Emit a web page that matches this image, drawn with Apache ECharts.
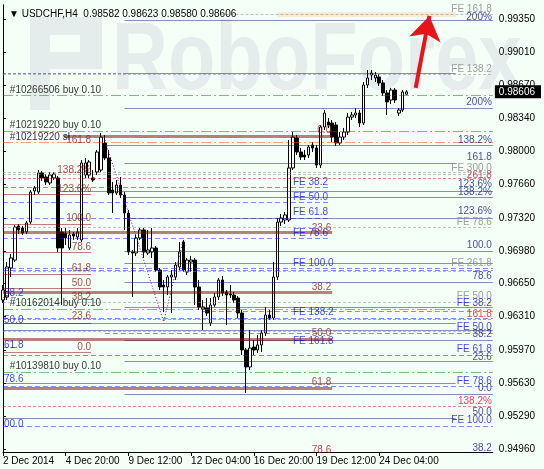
<!DOCTYPE html>
<html>
<head>
<meta charset="utf-8">
<script src="https://cdn.jsdelivr.net/npm/echarts@6/dist/echarts.min.js"></script>
<style>
    html, body { margin: 0; padding: 0; background: #f4fff8; }
    #chart { width: 544px; height: 469px; }
</style>
</head>
<body>
<div id="chart"></div>
<script>
// --- Data ---
const symbolName = 'USDCHF,H4';
const barCount = 126;                      // slots on the time axis (last ~22 are empty)
const timeLabels = ['2 Dec 2014', '4 Dec 20:00', '9 Dec 12:00', '12 Dec 04:00', '16 Dec 20:00', '19 Dec 12:00', '24 Dec 04:00'];
const timeLabelBars = [0, 16, 32, 48, 64, 80, 96];
const priceTicks = [0.9496, 0.9529, 0.9563, 0.9597, 0.9631, 0.9665, 0.9698, 0.9732, 0.9766, 0.9800, 0.9834, 0.9867, 0.9901, 0.9935];
const priceMin = 0.94929;
const priceMax = 0.99493;

// [open, close, low, high]
const candles = [
    [0.96481, 0.96583, 0.96450, 0.96634], [0.96512, 0.96818, 0.96481, 0.96869], [0.96808, 0.96910, 0.96716, 0.96951],
    [0.96889, 0.97226, 0.96869, 0.97247], [0.97237, 0.97196, 0.97155, 0.97257], [0.97216, 0.97165, 0.97145, 0.97237],
    [0.97175, 0.97267, 0.97155, 0.97288], [0.97277, 0.97584, 0.97257, 0.97604], [0.97594, 0.97625, 0.97553, 0.97645],
    [0.97584, 0.97778, 0.97563, 0.97808], [0.97778, 0.97727, 0.97696, 0.97798], [0.97737, 0.97686, 0.97655, 0.97767],
    [0.97676, 0.97757, 0.97655, 0.97788], [0.97727, 0.97767, 0.97706, 0.97788], [0.97727, 0.97012, 0.96971, 0.97747],
    [0.97175, 0.97012, 0.96430, 0.97216], [0.97165, 0.97114, 0.97043, 0.97216], [0.97012, 0.97145, 0.96992, 0.97196],
    [0.97155, 0.97134, 0.97094, 0.97175], [0.97124, 0.97175, 0.97094, 0.97216], [0.97094, 0.97880, 0.97073, 0.97910],
    [0.97757, 0.97880, 0.97727, 0.97931], [0.97757, 0.97890, 0.97727, 0.97910], [0.97727, 0.97706, 0.97686, 0.97808],
    [0.97788, 0.97992, 0.97757, 0.98013], [0.97808, 0.98145, 0.97788, 0.98186], [0.98084, 0.97931, 0.97910, 0.98166],
    [0.97931, 0.97574, 0.97553, 0.98013], [0.97604, 0.97574, 0.97369, 0.97686], [0.97574, 0.97655, 0.97553, 0.97706],
    [0.97655, 0.97553, 0.97522, 0.97737], [0.97553, 0.97369, 0.97196, 0.97584], [0.97369, 0.96971, 0.96940, 0.97400],
    [0.96971, 0.96961, 0.96512, 0.96992], [0.96961, 0.97114, 0.96930, 0.97145], [0.97114, 0.97196, 0.97094, 0.97216],
    [0.97196, 0.96971, 0.96910, 0.97216], [0.96961, 0.96992, 0.96940, 0.97196], [0.96971, 0.97012, 0.96910, 0.97216],
    [0.97012, 0.96787, 0.96767, 0.97032], [0.96787, 0.96614, 0.96583, 0.96808], [0.96634, 0.96614, 0.96359, 0.96685],
    [0.96614, 0.96716, 0.96532, 0.96736], [0.96716, 0.96736, 0.96348, 0.96787], [0.96716, 0.96838, 0.96685, 0.96869],
    [0.96818, 0.96971, 0.96787, 0.97073], [0.97073, 0.96787, 0.96767, 0.97094], [0.96767, 0.96889, 0.96736, 0.96910],
    [0.96869, 0.96889, 0.96767, 0.96930], [0.96889, 0.96614, 0.96430, 0.96910], [0.96614, 0.96410, 0.96379, 0.96685],
    [0.96389, 0.96410, 0.96175, 0.96481], [0.96399, 0.96348, 0.96318, 0.96501], [0.96246, 0.96430, 0.96216, 0.96501],
    [0.96430, 0.96512, 0.96410, 0.96553], [0.96512, 0.96685, 0.96481, 0.96706], [0.96685, 0.96553, 0.96522, 0.96726],
    [0.96563, 0.96532, 0.96226, 0.96583], [0.96542, 0.96532, 0.96501, 0.96634], [0.96532, 0.96481, 0.96450, 0.96563],
    [0.96501, 0.96348, 0.96297, 0.96522], [0.96348, 0.95971, 0.95919, 0.96379], [0.95971, 0.95797, 0.95532, 0.95991],
    [0.95797, 0.95991, 0.95766, 0.96175], [0.96001, 0.95971, 0.95919, 0.96073], [0.95971, 0.96022, 0.95940, 0.96124],
    [0.96022, 0.96144, 0.95950, 0.96175], [0.96144, 0.96328, 0.96113, 0.96410], [0.96328, 0.96297, 0.96277, 0.96379],
    [0.96297, 0.96716, 0.96277, 0.96869], [0.96716, 0.97277, 0.96685, 0.97318], [0.97277, 0.97318, 0.97237, 0.97359],
    [0.97298, 0.97349, 0.97257, 0.97380], [0.97298, 0.97829, 0.97277, 0.98115], [0.97829, 0.98145, 0.97808, 0.98196],
    [0.98135, 0.97992, 0.97961, 0.98166], [0.97992, 0.97941, 0.97910, 0.98033], [0.97961, 0.97941, 0.97910, 0.98013],
    [0.97961, 0.98043, 0.97931, 0.98064], [0.98064, 0.98033, 0.97992, 0.98094], [0.98033, 0.97859, 0.97829, 0.98064],
    [0.97859, 0.98247, 0.97829, 0.98268], [0.98247, 0.98390, 0.98217, 0.98421], [0.98298, 0.98268, 0.98237, 0.98339],
    [0.98288, 0.98145, 0.98094, 0.98319], [0.98268, 0.98084, 0.98053, 0.98298], [0.98084, 0.98145, 0.98064, 0.98196],
    [0.98145, 0.98196, 0.98115, 0.98237], [0.98196, 0.98349, 0.98166, 0.98390], [0.98349, 0.98370, 0.98319, 0.98401],
    [0.98370, 0.98390, 0.98339, 0.98441], [0.98390, 0.98288, 0.98247, 0.98421], [0.98288, 0.98676, 0.98268, 0.98707],
    [0.98676, 0.98748, 0.98646, 0.98829], [0.98778, 0.98799, 0.98727, 0.98829], [0.98748, 0.98778, 0.98707, 0.98809],
    [0.98758, 0.98697, 0.98666, 0.98789], [0.98697, 0.98595, 0.98564, 0.98727], [0.98595, 0.98503, 0.98370, 0.98625],
    [0.98523, 0.98625, 0.98482, 0.98646], [0.98625, 0.98523, 0.98492, 0.98646], [0.98390, 0.98421, 0.98360, 0.98441],
    [0.98421, 0.98605, 0.98401, 0.98625], [0.98582, 0.98606, 0.98580, 0.98623]
];

// horizontal levels: [price, fromBar, toBar]
const grayDashLevels = [[0.99401, 55.5, 125], [0.98788, 0, 125], [0.97788, 0, 125], [0.97767, 0, 125],
    [0.97226, 0, 125], [0.96777, 0, 125], [0.96461, 0, 125], [0.96164, 0, 125]];
const navyDashLevels = [[0.98799, 0, 31]];
const navyLevels = [[0.99340, 31, 125], [0.98799, 31, 115.5], [0.98441, 31, 125], [0.98064, 26, 125],
    [0.97880, 31, 115.5], [0.97594, 15, 125], [0.97533, 31, 125], [0.97318, 31, 125], [0.96981, 31, 125],
    [0.96859, 31, 125], [0.96665, 31, 125], [0.96410, 31, 125], [0.96248, 0, 115.5], [0.96176, 0, 125],
    [0.96073, 31, 125], [0.95852, 31, 125], [0.95633, 0, 115.5], [0.95521, 31, 125], [0.95276, 0, 115.5]];
const blueDashLevels = [[0.97635, 0, 83], [0.97482, 0, 83], [0.97318, 0, 83], [0.97114, 0, 83],
    [0.96808, 0, 125], [0.96787, 0, 125], [0.96512, 0, 4], [0.96369, 51, 125], [0.96297, 0, 125],
    [0.96144, 26, 125], [0.96001, 0, 4], [0.95919, 0, 125], [0.95603, 0, 125], [0.95195, 0, 125]];
const fiboThickLevels = [[0.98155, 15.5, 84], [0.97175, 0, 84], [0.96563, 0, 84], [0.96083, 0, 84], [0.95582, 0, 84]];
const fiboThinLevels = [[0.97563, 0, 22.5], [0.97257, 0, 22.5], [0.96971, 0, 22.5], [0.96746, 0, 22.5],
    [0.96604, 0, 22.5], [0.96248, 0, 22.5], [0.95944, 0, 22.5]];
const orderLevels = [[0.98574, 0, 125], [0.98200, 0, 125], [0.96389, 0, 115.5], [0.95746, 0, 125]];
const stopLevels = [[0.98094, 0, 125]];
const crimsonLevels = [[0.97727, 0, 125], [0.96287, 0, 125], [0.95399, 0, 125]];
const targetBand = [[0.99396, 70, 115.5]];
const zigzag = [[26, 0.98115], [41, 0.96258], [46, 0.97094]];
const arrow = [[105.3, 0.98646], [108.8, 0.99381]];

// text labels: [text, price, colour key]
const rightLabels = [
    ['FE 161.8', 0.99452, 'gray'], ['200%', 0.99370, 'navy'], ['FE 138.2', 0.98839, 'gray'], ['200%', 0.98503, 'navy'],
    ['138.2%', 0.98115, 'navy'], ['161.8', 0.97941, 'navy'], ['261.8', 0.97757, 'crimson'], ['FE 300.0', 0.97829, 'gray'],
    ['138.2%', 0.97584, 'navy'], ['123.6%', 0.97665, 'navy'], ['123.6%', 0.97390, 'navy'], ['FE 78.6', 0.97277, 'gray'],
    ['100.0', 0.97043, 'navy'], ['FE 261.8', 0.96859, 'gray'], ['78.6', 0.96726, 'navy'], ['FE 50.0', 0.96522, 'gray'],
    ['FE 38.2', 0.96450, 'blue'], ['161.8', 0.96338, 'crimson'], ['38.2', 0.96134, 'navy'], ['FE 50.0', 0.96205, 'blue'],
    ['23.6', 0.95899, 'navy'], ['FE 61.8', 0.95981, 'blue'], ['0.0', 0.95582, 'navy'], ['FE 78.6', 0.95654, 'blue'],
    ['138.2%', 0.95450, 'crimson'], ['50.0', 0.95337, 'navy'], ['FE 100.0', 0.95256, 'blue'], ['38.2', 0.94970, 'navy']
];
const midLabels = [['FE 38.2', 0.97686], ['FE 50.0', 0.97533], ['FE 61.8', 0.97380], ['FE 78.6', 0.97165],
    ['FE 100.0', 0.96859], ['FE 138.2', 0.96359], ['FE 161.8', 0.96063]];
const midFiboLabels = [['0.0', 0.98217], ['23.6', 0.97216], ['38.2', 0.96614], ['50.0', 0.96144], ['61.8', 0.95644], ['78.6', 0.94950]];
const leftFiboLabels = [['161.8', 0.98115], ['138.2%', 0.97808], ['123.6%', 0.97614], ['100.0', 0.97318], ['78.6', 0.97022],
    ['61.8', 0.96808], ['50.0', 0.96655], ['38.2', 0.96512], ['23.6', 0.96318], ['0.0', 0.96001]];
const orderLabels = [['#10266506 buy 0.10', 0.98625], ['#10219220 buy 0.10', 0.98268], ['#10219220 sl', 0.98145],
    ['#10162014 buy 0.10', 0.96450], ['#10139810 buy 0.10', 0.95807]];
const leftBlueLabels = [['38.2', 0.96552], ['50.0', 0.96277], ['61.8', 0.96022], ['78.6', 0.95674], ['00.0', 0.95215]];

// --- Styles ---
const FONT = 'Liberation Sans';
const WATERMARK = '#e4edeb';
const colors = {
    navy: '#1c1c7c', blue: '#1515e0', gray: '#888888', crimson: '#dc143c',
    darkRed: '#800000', fibText: '#8e2020', green: '#008000', orange: '#ff4500'
};

const chartDom = document.getElementById('chart');
const myChart = echarts.init(chartDom);

const bars = Array.from({ length: barCount }, (_, i) => String(i));
const lastBar = candles[candles.length - 1];
const lastClose = lastBar[1];
const header = '\u25BC ' + symbolName + '  ' + [lastBar[0], lastBar[3], lastBar[2], lastBar[1]].map(v => v.toFixed(5)).join(' ');

function levelSeries(levels, lineStyle, z) {
    return {
        type: 'lines', coordinateSystem: 'cartesian2d', xAxisIndex: 1, yAxisIndex: 0,
        silent: true, z: z || 5, symbol: 'none', lineStyle: lineStyle,
        data: levels.map(([p, a, b]) => ({ coords: [[a, p], [b, p]] }))
    };
}

// text-only scatter; items are [text, price, colourKey?]
function textSeries(items, bar, side, colorOf) {
    return {
        type: 'scatter', xAxisIndex: 1, yAxisIndex: 0, symbolSize: 0, silent: true, clip: false, z: 8,
        itemStyle: { color: 'rgba(0,0,0,0)' },
        label: {
            show: true, position: side === 'right' ? 'left' : 'right', distance: 0,
            fontFamily: FONT, fontSize: 10,
            formatter: p => p.value[2]
        },
        data: items.map(item => ({
            value: [bar, item[1], item[0]],
            label: { color: typeof colorOf === 'function' ? colorOf(item) : colorOf }
        }))
    };
}

const option = {
    backgroundColor: '#f4fff8',
    animation: false,
    title: {
        text: header, left: 4, top: 4,
        textStyle: { fontFamily: FONT, fontSize: 10, fontWeight: 'normal', color: '#000' }
    },
    // broker watermark (logo block + name)
    graphic: [
        { type: 'rect', z: -10, silent: true, shape: { x: 30, y: 17, width: 20, height: 93 }, style: { fill: WATERMARK } },
        { type: 'rect', z: -10, silent: true, shape: { x: 30, y: 17, width: 72, height: 18 }, style: { fill: WATERMARK } },
        { type: 'rect', z: -10, silent: true, shape: { x: 80, y: 17, width: 22, height: 52 }, style: { fill: WATERMARK } },
        { type: 'rect', z: -10, silent: true, shape: { x: 50, y: 52, width: 52, height: 17 }, style: { fill: WATERMARK } },
        {
            type: 'text', x: 112, y: 62, scaleX: 0.8, z: -10, silent: true,
            style: { text: 'RoboForex', font: 'bold 97px "Liberation Sans"', fill: WATERMARK, verticalAlign: 'middle' }
        }
    ],
    grid: { left: 3, right: 41, top: 5, bottom: 17 },
    xAxis: [{
        type: 'category', data: bars, boundaryGap: false,
        axisLine: { lineStyle: { color: '#000', width: 1 } },
        axisTick: { length: 4, lineStyle: { color: '#000' }, interval: i => timeLabelBars.includes(i) },
        axisLabel: {
            interval: i => timeLabelBars.includes(i),
            formatter: v => timeLabels[timeLabelBars.indexOf(Number(v))] || '',
            align: 'left', margin: 4, color: '#000', fontFamily: FONT, fontSize: 10
        },
        splitLine: { show: false }
    }, {
        type: 'value', min: 0, max: barCount - 1, show: false
    }],
    yAxis: [{
        type: 'value', position: 'right', min: priceMin, max: priceMax, scale: true,
        axisLine: { show: true, lineStyle: { color: '#000', width: 1 } },
        axisTick: { show: true, length: 3, customValues: priceTicks, lineStyle: { color: '#000' } },
        splitLine: { show: false },
        axisLabel: {
            customValues: priceTicks.concat([lastClose]),
            margin: 2,
            formatter: v => Math.abs(v - lastClose) < 1e-7 ? '{cur|' + v.toFixed(5) + '}' : '{n|' + v.toFixed(5) + '}',
            rich: {
                n: { color: '#000', fontFamily: FONT, fontSize: 10, padding: [0, 0, 0, 4] },
                cur: { color: '#fff', backgroundColor: '#000', fontFamily: FONT, fontSize: 10, padding: [2, 6, 1, 4] }
            }
        }
    }, {
        type: 'value', position: 'left', min: priceMin, max: priceMax, scale: true,
        axisLine: { show: true, lineStyle: { color: '#000', width: 1 } },
        axisTick: { show: false }, axisLabel: { show: false }, splitLine: { show: false }
    }],
    series: [
        levelSeries(targetBand, { color: '#f9d6b4', width: 5, type: 'solid' }, 2),
        {
            type: 'candlestick', xAxisIndex: 0, yAxisIndex: 0, data: candles, barWidth: 3, z: 3, silent: true,
            itemStyle: { color: '#ffffff', color0: '#000000', borderColor: '#000000', borderColor0: '#000000', borderWidth: 1 }
        },
        levelSeries(grayDashLevels, { color: colors.gray, width: 1, type: [3, 2] }),
        levelSeries(navyDashLevels, { color: colors.navy, width: 1, type: [3, 2] }),
        levelSeries(navyLevels, { color: colors.navy, width: 1, type: 'solid' }),
        levelSeries(blueDashLevels, { color: colors.blue, width: 1, type: [5, 3] }),
        levelSeries(fiboThinLevels, { color: colors.darkRed, width: 1, type: 'solid' }),
        levelSeries(fiboThickLevels, { color: colors.darkRed, width: 3, type: 'solid' }),
        levelSeries(orderLevels, { color: colors.green, width: 1, type: [10, 3, 2, 3] }),
        levelSeries(stopLevels, { color: colors.orange, width: 1, type: [10, 3, 2, 3] }),
        levelSeries(crimsonLevels, { color: colors.crimson, width: 1, type: [3, 2] }),
        {
            type: 'line', xAxisIndex: 1, yAxisIndex: 0, data: zigzag, symbol: 'none', silent: true, z: 4,
            lineStyle: { color: '#8000a0', width: 1, type: [1, 2] }
        },
        {
            type: 'lines', coordinateSystem: 'cartesian2d', xAxisIndex: 1, yAxisIndex: 0, silent: true, z: 9,
            symbol: ['none', 'arrow'], symbolSize: [16, 24],
            lineStyle: { color: '#e8141c', width: 4, opacity: 1 },
            data: [{ coords: arrow }]
        },
        textSeries(rightLabels, 124.75, 'right', item => colors[item[2]]),
        textSeries(midLabels, 74, 'left', colors.blue),
        textSeries(midFiboLabels, 83.75, 'right', colors.fibText),
        textSeries(leftFiboLabels, 22.5, 'right', colors.fibText),
        textSeries(orderLabels, 1.75, 'left', '#000'),
        textSeries(leftBlueLabels, 0.25, 'left', colors.blue)
    ]
};

myChart.setOption(option);
</script>
</body>
</html>
